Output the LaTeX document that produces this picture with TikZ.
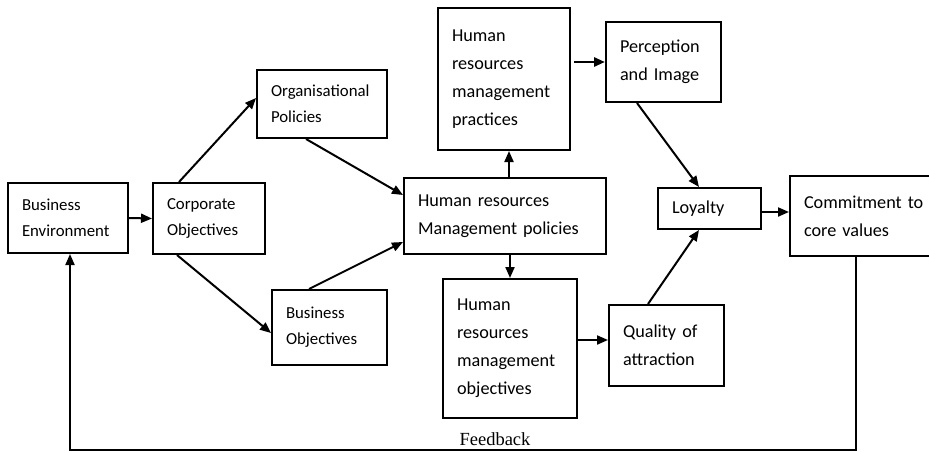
\documentclass[tikz,border=0pt]{standalone}
\usepackage{fontspec}
\setmainfont{Carlito}
\newfontfamily\fbfont{Liberation Serif}
\usetikzlibrary{arrows.meta}
\begin{document}
\begin{tikzpicture}[x=1pt,y=-1pt,
  box/.style={draw,line width=2pt,rectangle,align=left,inner xsep=14pt,inner ysep=0pt},
  small/.style={font=\fontsize{16.8}{26}\selectfont},
  large/.style={font=\fontsize{18.2}{28}\selectfont},
  arr/.style={line width=2pt,-{Triangle[length=11pt,width=9pt]}},
  link/.style={line width=2pt}
]
\useasboundingbox (0,0) rectangle (929,452);
\clip (0,0) rectangle (929,452);

% boxes: text width = box width - 28
\node[box,small,text width=92,minimum height=70] (be) at (68,218) {Business\\Environment};
\node[box,small,text width=84,minimum height=71] (co) at (209,218.5) {Corporate\\Objectives};
\node[box,small,text width=102,minimum height=68] (op) at (322,104) {Organisational\\Policies};
\node[box,small,text width=87,minimum height=75] (bo) at (329.5,327.5) {Business\\Objectives};
\node[box,large,text width=174,minimum height=76] (hrmp) at (505,216) {Human resources\\Management policies};
\node[box,large,text width=104,minimum height=142] (hrp) at (504,79) {Human\\resources\\management\\practices};
\node[box,large,text width=87,minimum height=80] (per) at (663.5,62) {Perception\\and Image};
\node[box,large,text width=75,minimum height=41] (loy) at (709.5,208.5) {Loyalty};
\node[box,large,text width=122,minimum height=80] (com) at (865,216) {Commitment to\\core values};
\node[box,large,text width=106,minimum height=139] (hro) at (510,348.5) {Human\\resources\\management\\objectives};
\node[box,large,text width=87,minimum height=81] (qua) at (666.5,345.5) {Quality of\\attraction};

% connectors
\draw[arr] (be.east) -- (co.west);
\draw[arr] ([xshift=27]co.north west) -- ([yshift=6]op.west);
\draw[arr] ([xshift=25]co.south west) -- ([yshift=-5.5]bo.west);
\draw[arr] ([xshift=50]op.south west) -- ([yshift=21]hrmp.west);
\draw[arr] ([xshift=38]bo.north west) -- ([yshift=-26]hrmp.west);
\draw[arr] ([xshift=4]hrmp.north) -- ([xshift=4]hrmp.north |- hrp.south);
\draw[arr] ([xshift=5]hrmp.south) -- ([xshift=5]hrmp.south |- hro.north);
\draw[arr,line width=2.8pt] ([xshift=3]hrp.east |- per.west) -- (per.west);
\draw[arr] ([xshift=32]per.south west) -- ([xshift=42]loy.north west);
\draw[arr] ([xshift=40]qua.north west) -- ([xshift=42]loy.south west);
\draw[arr] ([yshift=8.5]hro.east) -- ([yshift=8.5]hro.east -| qua.west);
\draw[arr] ([yshift=-3.5]loy.east) -- ([yshift=-3.5]loy.east -| com.west);

% feedback loop
\coordinate (fbr) at (856,450);
\coordinate (fbl) at (70,450);
\draw[arr] ([xshift=-9]com.south) -- (fbr) -- (fbl) -- ([xshift=2]be.south);
\node[font=\fbfont\fontsize{18.5}{20}\selectfont] (fbtext) at (495,439) {Feedback};
\end{tikzpicture}
\end{document}
